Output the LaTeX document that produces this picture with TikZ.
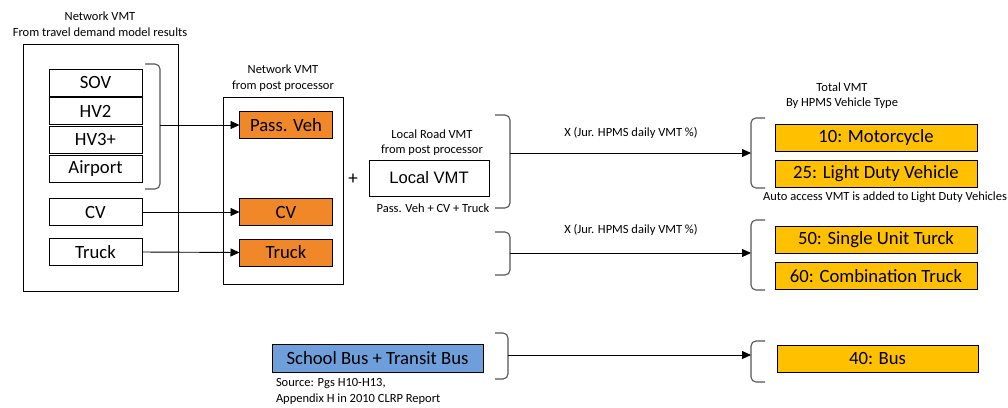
\documentclass[tikz,border=0pt]{standalone}
\usepackage{fontspec}
\setmainfont{Carlito}
\newfontfamily\arialfont{Liberation Sans}
\usetikzlibrary{positioning,arrows.meta}

\definecolor{passorange}{HTML}{F0882A}
\definecolor{hpmsgold}{HTML}{FFC000}
\definecolor{busblue}{HTML}{6E9FDB}
\definecolor{bracegray}{HTML}{555555}

\begin{document}
\begin{tikzpicture}[x=1pt,y=-1pt,
		every node/.style={inner sep=0pt,outer sep=0pt},
		note/.style={font=\fontsize{12.5}{15.5}\selectfont,align=center},
		modebox/.style={draw,line width=0.8pt,minimum width=93pt,minimum height=27pt,font=\fontsize{18.7}{20}\selectfont},
		postbox/.style={modebox,fill=passorange},
		hpmsbox/.style={modebox,fill=hpmsgold,minimum width=202pt},
		frame/.style={draw,line width=0.8pt},
		brace/.style={draw=bracegray,line width=1.1pt,rounded corners=5pt},
		flow/.style={line width=0.9pt,-{Triangle[length=9pt,width=8pt]}}]
	\useasboundingbox (0,0) rectangle (1008,407);
	
	% Network VMT from the demand model
	\node[note] (modelTitle) at (100,24) {Network VMT\\From travel demand model results};
	\draw[frame] (23,44) rectangle (178,291);
	\foreach \mode [count=\i from 0] in {SOV,HV2,HV3+,Airport}{
		\node[modebox] (mode\i) at (95.5,82.5+28.7*\i) {\mode};% One passenger mode
	}
	\node[modebox] (modeCV) at (95.5,212) {CV};
	\node[modebox] (modeTruck) at (95.5,252) {Truck};
	\draw[brace] (145,64) -- (160,64) -- (160,189) -- (145,189);
	\coordinate (passBr) at (160,125);
	
	% Network VMT from the post processor
	\node[note] (postTitle) at (283,78) {Network VMT\\from post processor};
	\draw[frame] (223,97) rectangle (343,284);
	\node[postbox] (postPass) at (286,125) {Pass. Veh};
	\node[postbox] (postCV) at (286,212) {CV};
	\node[postbox] (postTruck) at (286,252.5) {Truck};
	\draw[flow] (passBr) -- (postPass.west);
	\draw[flow] (modeCV.east) -- (postCV.west);
	\draw[flow] (modeTruck.east) -- (postTruck.west);
	
	% Local road VMT
	\node[font=\fontsize{19}{20}\selectfont] (plus) at (353,179) {+};
	\node[frame,minimum width=120pt,minimum height=36pt,font=\arialfont\fontsize{16.6}{18}\selectfont] (localVMT) at (429,178) {Local VMT};
	\node[note] (localTitle) at (432,142.5) {Local Road VMT\\from post processor};
	\node[note] (localSum) at (433,208) {Pass. Veh + CV + Truck};
	\draw[brace] (495,115) -- (510,115) -- (510,208) -- (495,208);
	\coordinate (localBr) at (510,153);
	\draw[brace] (495,232) -- (510,232) -- (510,275) -- (495,275);
	\coordinate (truckBr) at (510,253);
	
	% Total VMT by HPMS vehicle type
	\node[note] (totalTitle) at (842,95.5) {Total VMT\\By HPMS Vehicle Type};
	\draw[brace] (765,118) -- (751,118) -- (751,188) -- (765,188);
	\coordinate (lightBr) at (751,153);
	\draw[brace] (765,220) -- (751,220) -- (751,290) -- (765,290);
	\coordinate (heavyBr) at (751,253);
	\node[hpmsbox] (hpmsTen) at (876,137.5) {10: Motorcycle};
	\node[hpmsbox] (hpmsTwentyFive) at (876,174) {25: Light Duty Vehicle};
	\node[note] (autoNote) at (885,197) {Auto access VMT is added to Light Duty Vehicles};
	\node[hpmsbox] (hpmsFifty) at (876,240) {50: Single Unit Turck};
	\node[hpmsbox] (hpmsSixty) at (876,276) {60: Combination Truck};
	\node[note] (factorA) at (631,133) {X (Jur. HPMS daily VMT \%)};
	\node[note] (factorB) at (631,230) {X (Jur. HPMS daily VMT \%)};
	\draw[flow] (localBr) -- (lightBr);
	\draw[flow] (truckBr) -- (heavyBr);
	
	% Bus VMT
	\node[modebox,fill=busblue,minimum width=211pt,minimum height=28pt] (schoolBus) at (377.5,358) {School Bus + Transit Bus};
	\node[note,align=left,anchor=west] (busSource) at (276,391.5) {Source: Pgs H10-H13,\\Appendix H in 2010 CLRP Report};
	\draw[brace] (495,333) -- (508,333) -- (508,379) -- (495,379);
	\coordinate (busBrL) at (508,355);
	\draw[brace] (765,341) -- (751,341) -- (751,382) -- (765,382);
	\coordinate (busBrR) at (751,355);
	\node[hpmsbox,minimum width=201pt] (hpmsForty) at (877.5,358.5) {40: Bus};
	\draw[flow] (busBrL) -- (busBrR);
\end{tikzpicture}
\end{document}
